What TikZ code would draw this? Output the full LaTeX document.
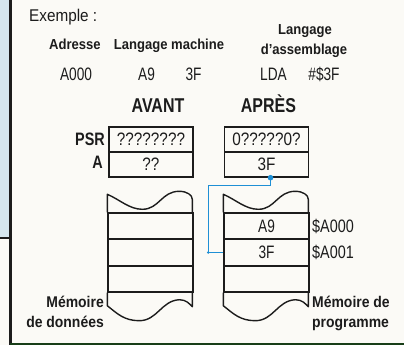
\documentclass[tikz,border=0pt]{standalone}
\usepackage{fontspec}
\setmainfont{Liberation Sans}
\newfontfamily\fA{Liberation Sans}[FakeStretch=0.76]
\newfontfamily\fR{Liberation Sans}[FakeStretch=0.85]
\newfontfamily\fB{Liberation Sans}[FakeStretch=0.9]
\newfontfamily\fC{Liberation Sans}[FakeStretch=0.8]
\definecolor{paper}{HTML}{FBFAF6}
\definecolor{strip}{HTML}{D5E6EE}
\definecolor{ink}{HTML}{1C1C1C}
\definecolor{wire}{HTML}{1E8FD5}
\tikzset{
  val/.style={anchor=base, inner sep=0, text=ink, font=\fA\fontsize{18}{18}\selectfont},
  hdr/.style={anchor=base, inner sep=0, text=ink, font=\fB\bfseries\fontsize{14.5}{14.5}\selectfont},
  big/.style={anchor=base, inner sep=0, text=ink, font=\fC\bfseries\fontsize{20}{20}\selectfont},
  reg/.style={draw=ink, line width=1.4pt, minimum width=84pt, minimum height=25pt, inner sep=0, text=ink, font=\fR\fontsize{18}{18}\selectfont},
  cell/.style={draw=ink, line width=1.4pt, minimum width=85pt, inner sep=0, text=ink, font=\fA\fontsize{18}{18}\selectfont},
  memlab/.style={inner sep=0, text=ink, font=\fB\bfseries\fontsize{15.5}{15.5}\selectfont},
  edge/.style={draw=ink, line width=1.4pt},
  conn/.style={draw=wire, line width=1.4pt}
}
\begin{document}
\begin{tikzpicture}[x=1pt, y=-1pt]
\useasboundingbox (0,0) rectangle (404,345);
\fill[paper] (0,0) rectangle (404,345);
\fill[strip] (0,0) rectangle (9,238);
\draw[ink, line width=1.5pt] (0,238) -- (10,238);
\draw[ink, line width=3pt] (10,0) -- (10,345);
\draw[ink!85!green, line width=2.5pt] (10,344) -- (404,344);

% header texts
\node[anchor=base west, inner sep=0, text=ink, font=\fB\fontsize{17}{17}\selectfont] (ex) at (29,22) {Exemple :};
\node[hdr] (hadr) at (75,50) {Adresse};
\node[hdr] (hlm) at (169,50) {Langage machine};
\node[hdr] (hla1) at (305,35) {Langage};
\node[hdr] (hla2) at (304,55) {d’assemblage};
\node[val] (vadr) at (76,81) {A000};
\node[val] (vm1) at (146.5,81) {A9};
\node[val] (vm2) at (193.5,81) {3F};
\node[val] (vas1) at (273.5,81) {LDA};
\node[val] (vas2) at (324,81) {\#\$3F};
\node[big] (avant) at (158,112) {AVANT};
\node[big] (apres) at (268.5,112) {APRÈS};

% registers
\node[reg] (psrL) at (151,139.5) {????????};
\node[reg] (aL) at (151,164.5) {??};
\node[reg] (psrR) at (266.5,139.5) {0?????0?};
\node[reg] (aR) at (266.5,164.5) {3F};
\node[anchor=base east, inner sep=0, text=ink, font=\fC\bfseries\fontsize{18}{18}\selectfont] (lpsr) at (105,145) {PSR};
\node[anchor=base east, inner sep=0, text=ink, font=\fC\bfseries\fontsize{18}{18}\selectfont] (la) at (103,168) {A};

% memory cells
\node[cell, minimum height=26pt] (mL1) at (150.5,226) {};
\node[cell, minimum height=27pt] (mL2) at (150.5,252.5) {};
\node[cell, minimum height=26pt] (mL3) at (150.5,279) {};
\node[cell, minimum height=26pt] (mR1) at (266.5,226) {A9};
\node[cell, minimum height=27pt] (mR2) at (266.5,252.5) {3F};
\node[cell, minimum height=26pt] (mR3) at (266.5,279) {};

% torn tops and bottoms
\foreach \c in {mL1,mR1}{
  \begin{scope}[shift={(\c.north west)}]
    \draw[edge, line join=round] (0,0) -- (0,-18) .. controls (12,-13) and (22,-3) .. (35,-3)
      .. controls (52,-3) and (54,-21) .. (72,-21) .. controls (80,-21) and (85,-17) .. (85,-13) -- (85,0);
  \end{scope}
}
\foreach \c in {mL3,mR3}{
  \begin{scope}[shift={(\c.south west)}]
    \draw[edge, line join=round] (0,0) -- (0,13) .. controls (10,21) and (17,28) .. (32,28)
      .. controls (50,28) and (54,8) .. (72,7) .. controls (79,7) and (82,11) .. (85,14) -- (85,0);
  \end{scope}
}

\node[anchor=base west, inner sep=0, text=ink, font=\fC\fontsize{18}{18}\selectfont] (ad0) at (312,232) {\$A000};
\node[anchor=base west, inner sep=0, text=ink, font=\fC\fontsize{18}{18}\selectfont] (ad1) at (312,258) {\$A001};

\node[memlab, anchor=base east] (ml1) at (104,307) {Mémoire};
\node[memlab, anchor=base east] (ml2) at (104,327) {de données};
\node[memlab, anchor=base west] (mr1) at (312,307) {Mémoire de};
\node[memlab, anchor=base west] (mr2) at (312,327) {programme};

% connector
\coordinate (src) at ([xshift=4pt]aR.south);
\coordinate (knee) at ([xshift=-15pt]mR2.west);
\draw[conn] (src) -- ++(0,8) -| (knee) -- (mR2.west);
\fill[wire] (src) circle (2.8pt);
\fill[wire] (knee) circle (1.4pt);
\end{tikzpicture}
\end{document}
